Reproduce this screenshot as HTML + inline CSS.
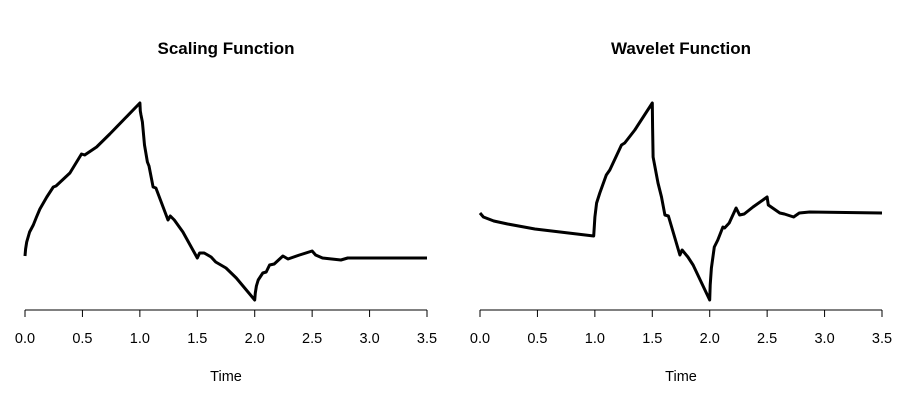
<!DOCTYPE html>
<html><head><meta charset="utf-8"><style>
body{margin:0;background:#fff}
svg{display:block;font-family:"Liberation Sans",sans-serif}
</style></head><body>
<svg id="c" width="907" height="404"></svg>
<script>
const ticks=[0,0.5,1,1.5,2,2.5,3,3.5];
const tickLabels=["0.0","0.5","1.0","1.5","2.0","2.5","3.0","3.5"];
const scalingT=[0,0.005,0.015,0.04,0.072,0.1,0.13,0.19,0.246,0.27,0.391,0.492,0.52,0.623,0.738,1.0,1.004,1.01,1.022,1.04,1.066,1.08,1.115,1.14,1.245,1.265,1.3,1.375,1.5,1.52,1.56,1.62,1.66,1.75,1.84,2.0,2.005,2.015,2.03,2.07,2.1,2.13,2.17,2.245,2.29,2.39,2.5,2.53,2.59,2.75,2.81,3.5];
const scalingV=[0.02,0.09,0.16,0.26,0.33,0.41,0.49,0.61,0.71,0.72,0.85,1.04,1.03,1.11,1.24,1.55,1.47,1.43,1.36,1.13,0.96,0.92,0.71,0.70,0.38,0.42,0.38,0.26,0.0,0.05,0.05,0.01,-0.04,-0.10,-0.20,-0.42,-0.35,-0.28,-0.22,-0.15,-0.14,-0.07,-0.06,0.02,-0.01,0.03,0.07,0.03,0.0,-0.02,0.0,0.0];
const waveletT=[0,0.03,0.12,0.24,0.478,0.99,1.0,1.015,1.043,1.1,1.13,1.232,1.26,1.348,1.5,1.503,1.507,1.55,1.58,1.61,1.64,1.74,1.76,1.81,1.855,2.0,2.004,2.015,2.04,2.07,2.115,2.13,2.17,2.23,2.26,2.3,2.377,2.5,2.51,2.61,2.65,2.73,2.78,2.87,3.5];
const waveletV=[0,-0.04,-0.08,-0.11,-0.16,-0.23,-0.04,0.10,0.20,0.38,0.43,0.68,0.70,0.83,1.10,0.85,0.56,0.30,0.16,-0.02,-0.03,-0.42,-0.37,-0.44,-0.52,-0.87,-0.72,-0.55,-0.34,-0.27,-0.14,-0.15,-0.10,0.05,-0.02,-0.01,0.06,0.16,0.08,0,-0.01,-0.04,0,0.01,0];
const svg=document.getElementById('c');const NS='http://www.w3.org/2000/svg';
function mk(tag,attrs,parent){const e=document.createElementNS(NS,tag);for(const k in attrs)e.setAttribute(k,attrs[k]);(parent||svg).appendChild(e);return e;}
function panel(x0,title,T,V,name){
  const g=mk('g',{});
  
  
  const xs=t=>x0+t*(402/3.5);
  const vmin=Math.min(...V),vmax=Math.max(...V);
  const ys=v=>300-(v-vmin)/(vmax-vmin)*197;
  const tt=mk('text',{x:x0+201,y:54,'text-anchor':'middle','font-size':17,'font-weight':'bold'},g);
  tt.textContent=title;
  
  
  const ax=mk('line',{x1:xs(0),x2:xs(3.5),y1:310,y2:310,stroke:'#000','stroke-width':1},g);
  
  
  ticks.forEach((t,i)=>{
    const tk=mk('line',{x1:xs(t),x2:xs(t),y1:310,y2:317,stroke:'#000'},g);
    
    
    const l=mk('text',{x:xs(t),y:343,'text-anchor':'middle','font-size':14.5},g);
    l.textContent=tickLabels[i];
    
    
  });
  const xt=mk('text',{x:x0+201,y:381,'text-anchor':'middle','font-size':14.5},g);
  xt.textContent='Time';
  
  
  const d=T.map((t,i)=>(i?'L':'M')+xs(t).toFixed(1)+','+ys(V[i]).toFixed(1)).join('');
  const p=mk('path',{d:d,fill:'none',stroke:'#000','stroke-width':3,'stroke-linejoin':'round'},g);
  
  
}
panel(25,'Scaling Function',scalingT,scalingV,'scaling');
panel(480,'Wavelet Function',waveletT,waveletV,'wavelet');
</script>
</body></html>
